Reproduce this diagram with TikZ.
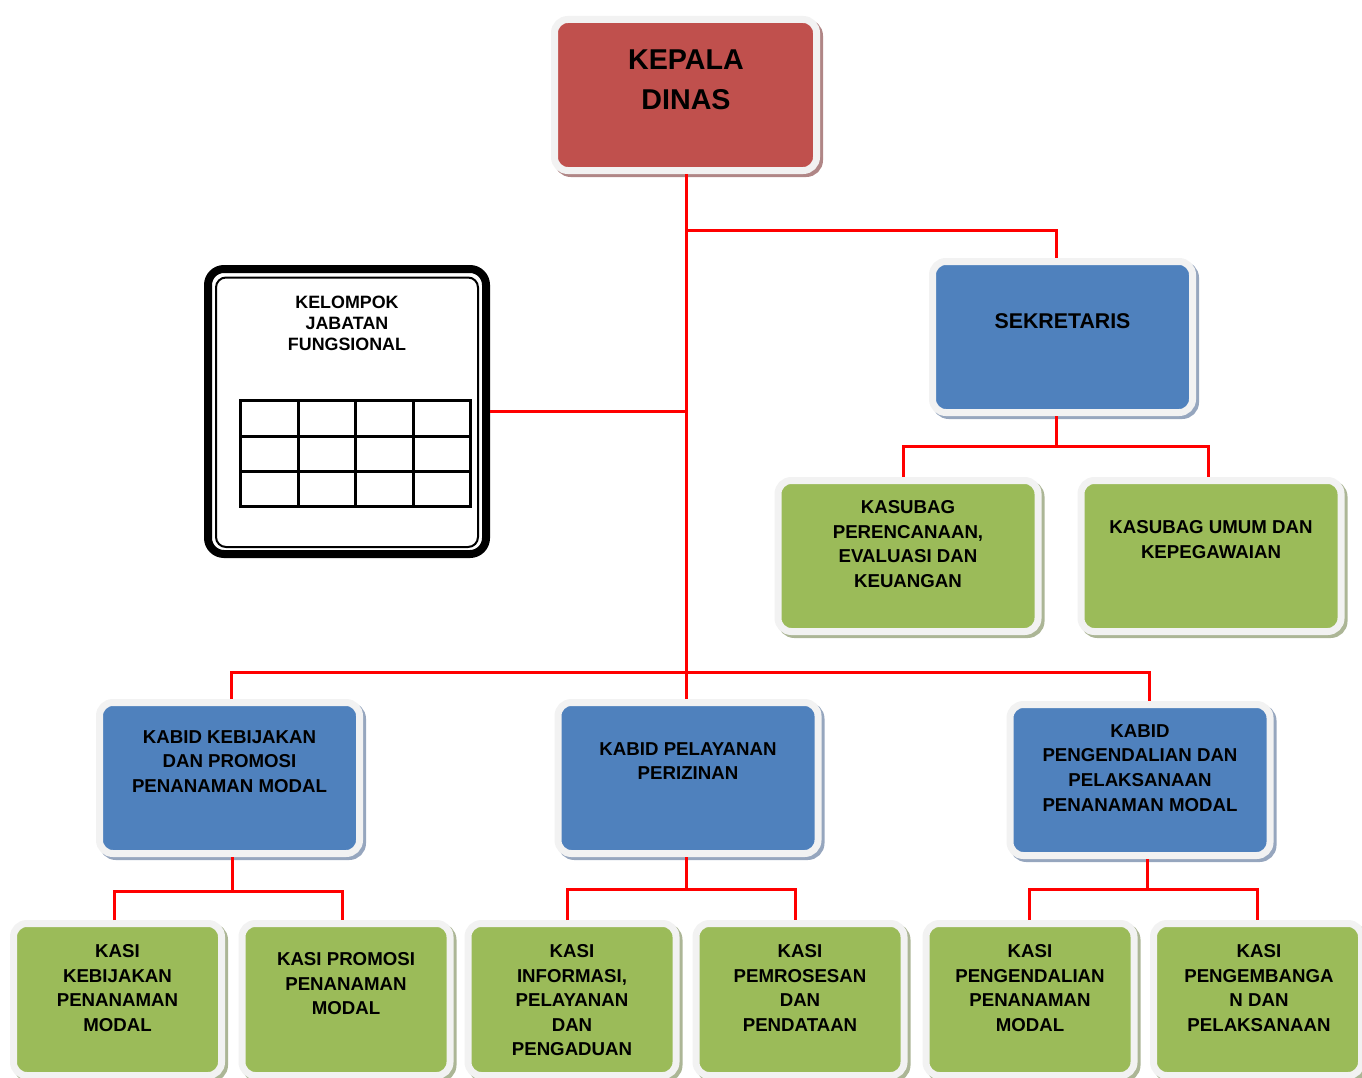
\documentclass[tikz,border=0pt]{standalone}
\usepackage{fontspec}
\setmainfont{Liberation Sans}

\definecolor{boxred}{HTML}{C0504D}
\definecolor{boxblue}{HTML}{4F81BD}
\definecolor{boxgreen}{HTML}{9BBB59}
\definecolor{framegrey}{HTML}{F2F2F2}
\definecolor{shadowred}{RGB}{176,134,134}
\definecolor{shadowblue}{RGB}{150,166,190}
\definecolor{shadowgreen}{RGB}{172,182,150}

\begin{document}
\begin{tikzpicture}[x=0.75pt,y=0.75pt,yscale=-1,xscale=1,
  unit/.style 2 args={rectangle, inner sep=0pt, rounded corners=10pt, fill=#1, draw=framegrey, line width=5.25pt,
    preaction={draw=#2, fill=#2, line width=5.25pt, transform canvas={xshift=2.25pt,yshift=-2.25pt}}},
  bigbox/.style={minimum width=195pt, minimum height=113.25pt},
  kasibox/.style={minimum width=156pt, minimum height=114pt},
  txt/.style={anchor=north, inner sep=0pt, align=center, font=\bfseries\fontsize{14}{18.4}\selectfont},
  conn/.style={draw=red, line width=2.25pt}]
\useasboundingbox (0,0) rectangle (1362,1077);

% Kepala Dinas
\node[unit={boxred}{shadowred}, bigbox, minimum width=196.5pt] (kepala) at (685.5,95) {};
\node[txt, font=\bfseries\fontsize{21.5}{30}\selectfont] (kepala-t) at (686,49.7) {KEPALA\\DINAS};

% Sekretariat
\node[unit={boxblue}{shadowblue}, bigbox] (sek) at (1062.5,337) {};
\node[txt, font=\bfseries\fontsize{16}{20}\selectfont] (sek-t) at (1062.5,313.4) {SEKRETARIS};
\node[unit={boxgreen}{shadowgreen}, bigbox] (ksb1) at (908,556) {};
\node[txt] (ksb1-t) at (908,500.3) {KASUBAG\\PERENCANAAN,\\EVALUASI DAN\\KEUANGAN};
\node[unit={boxgreen}{shadowgreen}, bigbox] (ksb2) at (1211,556) {};
\node[txt] (ksb2-t) at (1211,520.3) {KASUBAG UMUM DAN\\KEPEGAWAIAN};

% Kelompok jabatan fungsional
\node[draw, line width=6pt, rounded corners=12pt, minimum width=208.5pt, minimum height=213.75pt, inner sep=0pt] (kjf) at (347,411.5) {};
\draw[line width=1.5pt, rounded corners=7.5pt] ([shift={(12,12.5)}]kjf.north west) rectangle ([shift={(-12,-11)}]kjf.south east);
\node[txt, font=\bfseries\fontsize{13.4}{15.75}\selectfont] (kjf-t) at (347,295.5) {KELOMPOK\\JABATAN\\FUNGSIONAL};
\draw[line width=2.25pt] (240,400) rectangle (470,506);
\foreach \gx in {298,355,413} \draw[line width=2.25pt] (\gx,400) -- (\gx,506);
\foreach \gy in {436,471} \draw[line width=2.25pt] (240,\gy) -- (470,\gy);

% Kabid
\node[unit={boxblue}{shadowblue}, bigbox] (kabid1) at (229.5,778) {};
\node[txt] (kabid1-t) at (229.5,730.3) {KABID KEBIJAKAN\\DAN PROMOSI\\PENANAMAN MODAL};
\node[unit={boxblue}{shadowblue}, bigbox] (kabid2) at (688,778) {};
\node[txt] (kabid2-t) at (688,742.3) {KABID PELAYANAN\\PERIZINAN};
\node[unit={boxblue}{shadowblue}, bigbox] (kabid3) at (1140,780) {};
\node[txt] (kabid3-t) at (1140,724.3) {KABID\\PENGENDALIAN DAN\\PELAKSANAAN\\PENANAMAN MODAL};

% Kasi
\node[unit={boxgreen}{shadowgreen}, kasibox] (kasi1) at (117.5,999.5) {};
\node[txt] (kasi1-t) at (117.5,944.3) {KASI\\KEBIJAKAN\\PENANAMAN\\MODAL};
\node[unit={boxgreen}{shadowgreen}, kasibox] (kasi2) at (346,999.5) {};
\node[txt] (kasi2-t) at (346,952.3) {KASI PROMOSI\\PENANAMAN\\MODAL};
\node[unit={boxgreen}{shadowgreen}, kasibox] (kasi3) at (572,999.5) {};
\node[txt] (kasi3-t) at (572,944.3) {KASI\\INFORMASI,\\PELAYANAN\\DAN\\PENGADUAN};
\node[unit={boxgreen}{shadowgreen}, kasibox] (kasi4) at (800,999.5) {};
\node[txt] (kasi4-t) at (800,944.3) {KASI\\PEMROSESAN\\DAN\\PENDATAAN};
\node[unit={boxgreen}{shadowgreen}, kasibox] (kasi5) at (1030,999.5) {};
\node[txt] (kasi5-t) at (1030,944.3) {KASI\\PENGENDALIAN\\PENANAMAN\\MODAL};
\node[unit={boxgreen}{shadowgreen}, kasibox] (kasi6) at (1257.5,999.5) {};
\node[txt] (kasi6-t) at (1259,944.3) {KASI\\PENGEMBANGA\\N DAN\\PELAKSANAAN};

% Garis
\coordinate (topbus) at (686,230);
\coordinate (midbus) at (686,672);
\coordinate (sekbus) at (1056,446);
\coordinate (bus1) at (232,891);
\coordinate (bus2) at (686,889);
\coordinate (bus3) at (1147,889);
\draw[conn] (kepala.south -| topbus) -- (kabid2.north -| topbus);
\draw[conn] (topbus) -| ([shift={(-6.5,0)}]sek.north);
\draw[conn] (kjf.east) -- (kjf.east -| topbus);
\draw[conn] ([shift={(1.5,0)}]kabid1.north) |- (midbus) -| ([shift={(9,0)}]kabid3.north);
\draw[conn] (sekbus |- sek.south) -- (sekbus);
\draw[conn] ([shift={(-5,0)}]ksb1.north) |- (sekbus) -| ([shift={(-3,0)}]ksb2.north);
\draw[conn] (bus1 |- kabid1.south) -- (bus1);
\draw[conn] ([shift={(-3.5,0)}]kasi1.north) |- (bus1) -| ([shift={(-4,0)}]kasi2.north);
\draw[conn] (bus2 |- kabid2.south) -- (bus2);
\draw[conn] ([shift={(-5,0)}]kasi3.north) |- (bus2) -| ([shift={(-5,0)}]kasi4.north);
\draw[conn] (bus3 |- kabid3.south) -- (bus3);
\draw[conn] ([shift={(-1,0)}]kasi5.north) |- (bus3) -| (kasi6.north);
\end{tikzpicture}
\end{document}
